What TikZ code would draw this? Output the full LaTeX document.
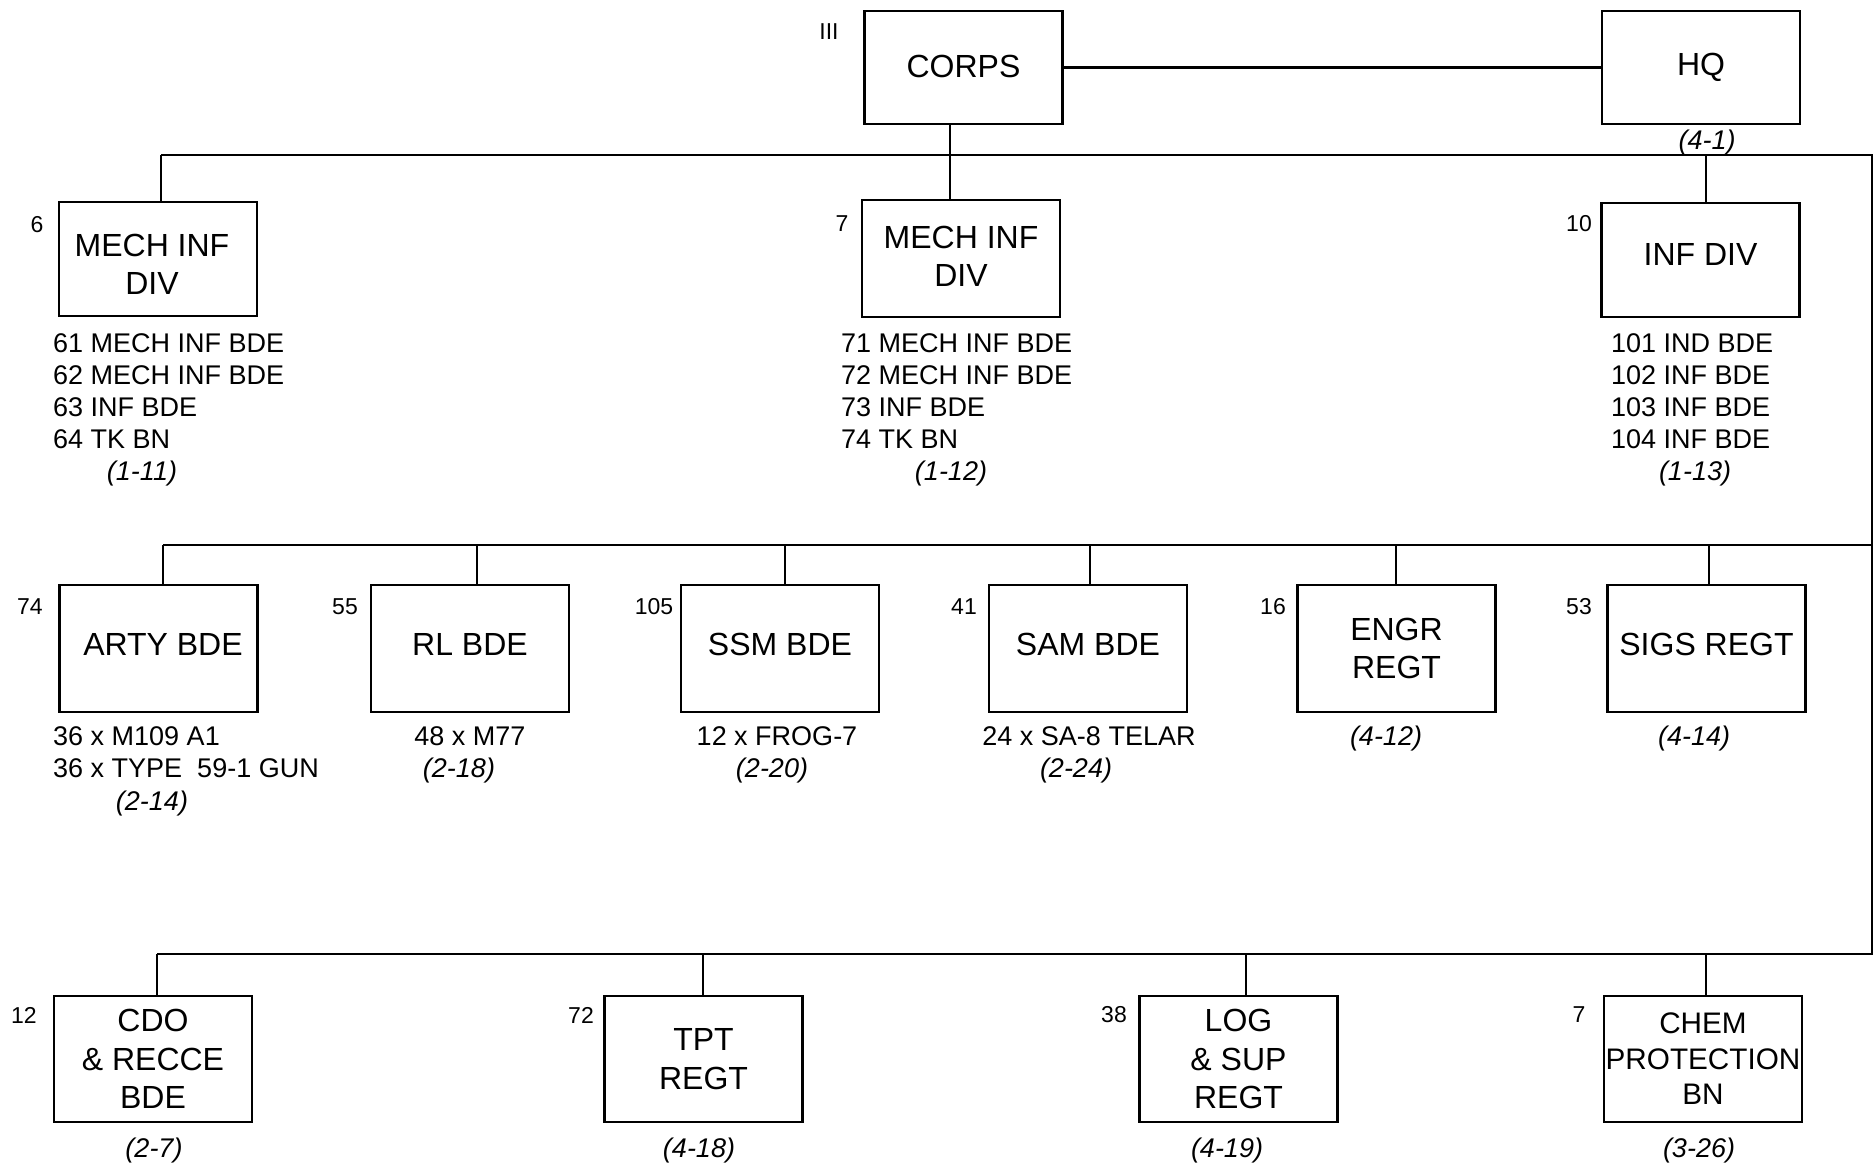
\documentclass[tikz,border=0pt]{standalone}
\usepackage{fontspec}
\setmainfont{Liberation Sans}
\begin{document}
\begin{tikzpicture}[x=1pt,y=-1pt,
  box/.style={draw=black, line width=2.8pt, inner sep=0pt, minimum width=198pt, align=center, font=\fontsize{32}{38.5}\selectfont},
  num/.style={font=\fontsize{23}{27}\selectfont, inner sep=0pt},
  lst/.style={font=\fontsize{27}{32}\selectfont, align=left, inner sep=0pt, anchor=north west},
  info/.style={font=\fontsize{27}{32}\selectfont, inner sep=0pt},
  ref/.style={font=\fontsize{27}{32}\selectfont\itshape, inner sep=0pt, yshift=-3pt},
  link/.style={line width=2.2pt, draw=black}]
\useasboundingbox (0,0) rectangle (1874,1165);

% top
\node[box, minimum height=113pt] (corps) at (963.5,67.5) {CORPS\rule[-2pt]{0pt}{0pt}};
\node[box, minimum height=113pt] (hq) at (1701,67.5) {HQ\rule[-7pt]{0pt}{0pt}};
\node[num] (nIII) at (829,32) {III};
\node[ref] (r41) at (1707,140) {(4-1)};

% row 1
\node[box, minimum height=114pt] (div6) at (158,259) {\rule{0pt}{33pt}MECH INF\hspace*{12pt}\\DIV\hspace*{12pt}};
\node[box, minimum height=117pt] (div7) at (961,258.5) {MECH INF\\DIV\rule[-4pt]{0pt}{0pt}};
\node[box, minimum height=114pt] (div10) at (1700.5,260) {INF DIV\rule[-12pt]{0pt}{0pt}};
\node[num] (n6) at (37,225) {6};
\node[num] (n7) at (842,224) {7};
\node[num] (n10) at (1579,224) {10};
\node[lst] (l6) at (53,333) {61 MECH INF BDE\\62 MECH INF BDE\\63 INF BDE\\64 TK BN};
\node[lst] (l7) at (841,333) {71 MECH INF BDE\\72 MECH INF BDE\\73 INF BDE\\74 TK BN};
\node[lst] (l10) at (1611,333) {101 IND BDE\\102 INF BDE\\103 INF BDE\\104 INF BDE};
\node[ref] (r111) at (142,471) {(1-11)};
\node[ref] (r112) at (951,471) {(1-12)};
\node[ref] (r113) at (1695,471) {(1-13)};

% row 2
\node[box, minimum height=127pt] (arty) at (158.5,648.5) {\hspace*{9pt}ARTY BDE\rule[-8pt]{0pt}{0pt}};
\node[box, minimum height=127pt] (rl) at (470,648.5) {RL BDE\rule[-8pt]{0pt}{0pt}};
\node[box, minimum height=127pt] (ssm) at (780,648.5) {SSM BDE\rule[-8pt]{0pt}{0pt}};
\node[box, minimum height=127pt] (sam) at (1088,648.5) {SAM BDE\rule[-8pt]{0pt}{0pt}};
\node[box, minimum height=127pt] (engr) at (1396.5,648.5) {ENGR\\REGT};
\node[box, minimum height=127pt] (sigs) at (1706.5,648.5) {SIGS REGT\rule[-8pt]{0pt}{0pt}};
\foreach \n/\x/\t in {n74/30/74, n55/345/55, n105/654/105, n41/964/41, n16/1273/16, n53/1579/53}
  \node[num] (\n) at (\x,607) {\t};
\node[lst] (larty) at (53,726) {36 x M109 A1\\36 x TYPE~ 59-1 GUN};
\node[info] (lrl) at (470,736) {48 x M77};
\node[info] (lssm) at (777,736) {12 x FROG-7};
\node[info] (lsam) at (1089,736) {24 x SA-8 TELAR};
\node[ref] (r214) at (152,801) {(2-14)};
\node[ref] (r218) at (459,768) {(2-18)};
\node[ref] (r220) at (772,768) {(2-20)};
\node[ref] (r224) at (1076,768) {(2-24)};
\node[ref] (r412) at (1386,736) {(4-12)};
\node[ref] (r414) at (1694,736) {(4-14)};

% row 3
\node[box, minimum height=126pt] (cdo) at (153,1059) {CDO\\\&{} RECCE\\BDE};
\node[box, minimum height=126pt] (tpt) at (703.5,1059) {TPT\\REGT};
\node[box, minimum height=126pt] (log) at (1238.5,1059) {LOG\\\&{} SUP\\REGT};
\node[box, minimum height=126pt, font=\fontsize{29.7}{35.5}\selectfont] (chem) at (1703,1059) {CHEM\\PROTECTION\\BN};
\node[num] (n12) at (24,1015) {12};
\node[num] (n72) at (581,1015) {72};
\node[num] (n38) at (1114,1015) {38};
\node[num] (n7b) at (1579,1015) {7};
\node[ref] (r27) at (154,1147) {(2-7)};
\node[ref] (r418) at (699,1147) {(4-18)};
\node[ref] (r419) at (1227,1147) {(4-19)};
\node[ref] (r326) at (1699,1147) {(3-26)};

% buses
\coordinate (b1l) at (161,155); \coordinate (b1r) at (1872,155);
\coordinate (b2l) at (163,545); \coordinate (b2r) at (1872,545);
\coordinate (b3l) at (157,954); \coordinate (b3r) at (1872,954);
\draw[link] (b1l) -- (b1r) -- (b3r) -- (b3l);
\draw[link] (b2l) -- (b2r);
\draw[link] (corps) -- (hq);

% stems
\draw[link] (950,0 |- corps.south) -- (950,0 |- div7.north);
\draw[link] (b1l) -- (161,0 |- div6.north);
\draw[link] (1706,155) -- (1706,0 |- div10.north);
\foreach \n/\x in {arty/163, rl/477, ssm/785, sam/1090, engr/1396, sigs/1709}
  \draw[link] (\x,545) -- (\x,0 |- \n.north);
\foreach \n/\x in {cdo/157, tpt/703, log/1246, chem/1706}
  \draw[link] (\x,954) -- (\x,0 |- \n.north);
\end{tikzpicture}
\end{document}
